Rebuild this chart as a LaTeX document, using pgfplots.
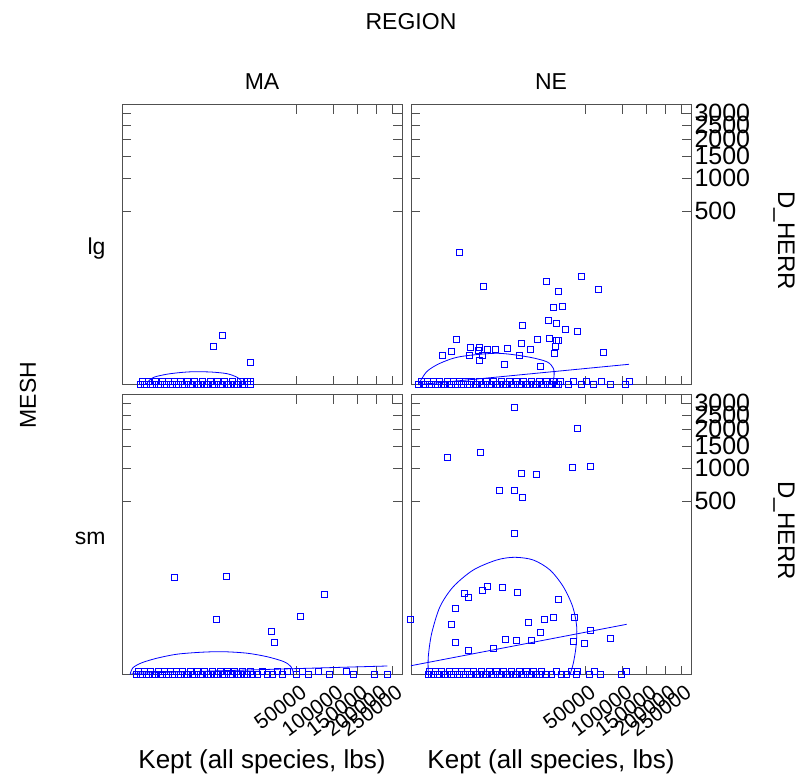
\documentclass[border=0pt]{standalone}
\usepackage{fontspec}
\setmainfont{Liberation Sans}
\usepackage{pgfplots}
\pgfplotsset{compat=1.18}
\definecolor{frame}{RGB}{80,80,80}
\definecolor{ptblue}{RGB}{0,0,255}
\pgfplotsset{
  panel/.style={
    scale only axis, width=280pt, height=280pt, anchor=south west,
    clip=false,
    x coord trafo/.code={\begingroup\pgfkeys{/pgf/fpu=true,/pgf/fpu/output format=fixed}\pgfmathparse{sqrt(sqrt(##1))}\pgfmathsmuggle\pgfmathresult\endgroup},
    y coord trafo/.code={\begingroup\pgfkeys{/pgf/fpu=true,/pgf/fpu/output format=fixed}\pgfmathparse{sqrt(sqrt(##1))}\pgfmathsmuggle\pgfmathresult\endgroup},
    xmin=4.63, xmax=283760, ymin=0, ymax=3388,
    xtick={50000,100000,150000,200000,250000},
    ytick={500,1000,1500,2000,2500,3000},
    xticklabels={}, yticklabels={},
    minor tick num=0,
    tick align=inside, major tick length=9pt,
    axis line style={frame, line width=1pt},
    every tick/.style={frame, line width=1pt},
    xticklabel style={rotate=37, anchor=north east, font=\fontsize{21}{21}\selectfont, yshift=-5pt},
    yticklabel style={font=\fontsize{25}{25}\selectfont},
  },
  pts/.style={only marks, mark=square, mark size=3pt, color=ptblue, mark options={draw=ptblue, fill=none, solid, line width=0.95pt}},
  fit/.style={no marks, color=ptblue, line width=0.8pt},
  ell/.style={no marks, color=ptblue, line width=0.8pt, smooth},
  xlab/.style={xticklabels={50000,100000,150000,200000,250000}},
  ylab/.style={yticklabel pos=right, yticklabels={500,1000,1500,2000,2500,3000}},
}
\begin{document}
\begin{tikzpicture}
\path[use as bounding box] (0pt,0pt) rectangle (811pt,781pt);

% ---------------- MA, lg ----------------
\begin{axis}[panel, at={(122pt,396.3pt)}]
\addplot[pts] coordinates {
(7120,3.18) (5198,1.20) (16713,0.129) (16713,0.00005)
(66.5,0) (82.1,0.00004) (100.3,0) (121.4,0) (145.6,0.00004) (173.2,0) (204.7,0)
(259.6,0.00004) (324.9,0) (374.8,0) (430.2,0.00004) (491.6,0) (559.3,0) (633.7,0.00004)
(715.4,0) (804.7,0) (902.2,0.00004) (1008,0) (1123,0) (1248,0.00004) (1383,0) (1528,0)
(1768,0.00004) (2034,0) (2228,0) (2434,0.00004) (2772,0) (3143,0) (3411,0.00004) (3694,0)
(4153,0) (4654,0.00004) (5012,0) (5389,0) (5996,0.00004) (6653,0) (7120,0) (7611,0.00004)
(8393,0) (9236,0) (9832,0.00004) (10455,0) (11447,0) (12506,0.00004) (13255,0) (14033,0)
(15265,0.00004) (16577,0)
};
\addplot[ell] coordinates {
(121.4,0) (159,0.000141) (240.2,0.001745) (595.6,0.0067) (1383,0.01261) (2543,0.01575)
(5012,0.0139) (8393,0.00807) (11447,0.001745) (12876,0.000141) (13255,0)
};
\end{axis}

% ---------------- NE, lg ----------------
\begin{axis}[panel, ylab, at={(411pt,396.3pt)}]
\addplot[pts] coordinates {
(728,167.4) (2467,51.7) (20130,63.0) (45590,76.1) (27420,42.0) (64300,45.7)
(23860,20.1) (29860,20.8) (21410,9.66) (25680,7.84) (10230,6.86) (32020,5.04)
(41580,4.58) (607,2.26) (9923,1.62) (15700,2.26) (21740,2.56) (26120,2.20)
(27160,2.07) (25060,1.20) (1362,1.08) (2062,1.08) (2978,0.827) (4043,0.896)
(6275,1.0) (12990,0.896) (24630,0.557) (222,0.412) (439,0.654) (1268,0.390)
(1969,0.737) (2329,0.412) (2034,0.205) (9323,0.390) (5727,0.0955) (17030,0.0632)
(70770,0.607)
(16.2,0) (25.1,0.00004) (32.8,0) (42.1,0) (53.3,0.00004) (66.5,0) (82.1,0) (100.3,0.00004)
(121.4,0) (145.6,0) (173.2,0.00004) (204.7,0) (259.6,0) (324.9,0.00004) (374.8,0) (430.2,0)
(491.6,0.00004) (559.3,0) (633.7,0) (715.4,0.00004) (804.7,0) (902.2,0) (1008,0.00004)
(1123,0) (1248,0) (1383,0.00004) (1528,0) (1768,0) (2034,0.00004) (2228,0) (2434,0)
(2772,0.00004) (3143,0) (3411,0) (3694,0.00004) (4153,0) (4654,0) (5012,0.00004) (5389,0)
(5996,0) (6653,0.00004) (7120,0) (7611,0) (8393,0.00004) (9236,0) (9832,0) (10455,0.00004)
(11447,0) (12506,0) (13255,0.00004) (14033,0) (15265,0) (16577,0.00004) (17502,0) (18458,0)
(19966,0.00004) (21570,0) (22690,0) (23855,0.00004) (25681,0) (26958,0) (28281,0.00004)
(34300,0) (38357,0.00004) (45976,0) (51017,0.00004) (58289,0) (68654,0.00004) (80180,0)
(104632,0) (112004,0.0001)
};
\addplot[fit] coordinates {(17.0,0) (112004,0.0955)};
\addplot[ell] coordinates {
(17.0,0) (51.47,0.01575) (188.45,0.1156) (759.1,0.3388) (4266,0.5358) (11688,0.3388)
(20332,0.1543) (24032,0.03988) (24452,0.002258) (23092,0)
};
\end{axis}

% ---------------- MA, sm ----------------
\begin{axis}[panel, xlab, at={(122pt,106.3pt)}]
\addplot[pts] coordinates {
(918,49.6) (8206,51.7) (5850,5.31) (28484,1.96) (30359,0.578) (53801,6.41) (85766,23.4)
(42.1,0) (53.3,0.00004) (66.5,0) (82.1,0) (100.3,0.00004) (121.4,0) (145.6,0) (173.2,0.00004)
(204.7,0) (259.6,0) (324.9,0.00004) (374.8,0) (430.2,0) (491.6,0.00004) (559.3,0) (633.7,0)
(715.4,0.00004) (804.7,0) (902.2,0) (1008,0.00004) (1123,0) (1248,0) (1383,0.00004) (1528,0)
(1768,0) (2034,0.00004) (2228,0) (2434,0) (2772,0.00004) (3143,0) (3411,0) (3694,0.00004)
(4153,0) (4654,0) (5012,0.00004) (5389,0) (5996,0) (6653,0.00004) (7120,0) (7611,0)
(8393,0.00004) (9236,0) (9832,0) (10455,0.00004) (11447,0) (12506,0) (13255,0.00004)
(14033,0) (15265,0) (16577,0.00004) (17502,0) (19966,0) (22690,0.00004) (25681,0)
(28959,0) (32541,0.00004) (36447,0) (40695,0.00004)
(50000,0) (56012,0.00004) (63071,0) (76286,0.00004) (93110,0) (125224,0.00004)
(139353,0) (191494,0) (231938,0)
};
\addplot[fit] coordinates {(24.09,0.000002) (231938,0.00316)};
\addplot[ell] coordinates {
(18.87,0) (28.76,0.001323) (82.1,0.01143) (301.9,0.04086) (1064.6,0.0974) (3410.6,0.1413)
(7361.6,0.1543) (15265,0.1178) (25681,0.0579) (38103,0.01575) (44351,0.002258)
(46265,0.000045) (46755,0)
};
\end{axis}

% ---------------- NE, sm ----------------
\begin{axis}[panel, xlab, ylab, at={(411pt,106.3pt)}]
\addplot[pts] coordinates {
(8047,2818) (41850,2032) (332,1231) (2158,1349) (37270,1020) (54900,1040)
(9832,912) (15570,894) (4777,637) (7943,637) (10140,546) (8047,222)
(2928,33.7) (5331,32.2) (2329,28.0) (992,23.7) (1229,19.4) (8667,25.4) (27160,17.8)
(585,10.7) (12150,4.16) (19100,5.19) (24030,5.98) (39210,5.82) (439,3.45) (17030,1.78)
(54570,2.14) (559,0.607) (5933,0.896) (8475,0.799) (13370,0.772) (38100,0.686)
(48250,0.557) (80180,1.0) (1184,0.205) (3739,0.280) (3.98,5.19)
(59.6,0) (66.5,0.00004) (82.1,0) (100.3,0) (121.4,0.00004) (145.6,0) (173.2,0) (204.7,0.00004)
(259.6,0) (324.9,0) (374.8,0.00004) (430.2,0) (491.6,0) (559.3,0.00004) (633.7,0) (715.4,0)
(804.7,0.00004) (902.2,0) (1008,0) (1123,0.00004) (1248,0) (1383,0) (1528,0.00004) (1768,0)
(2034,0) (2228,0.00004) (2434,0) (2772,0) (3143,0.00004) (3411,0) (3694,0) (4153,0.00004)
(4654,0) (5012,0) (5389,0.00004) (5996,0) (6653,0) (7120,0.00004) (7611,0) (8393,0)
(9236,0.00004) (9832,0) (10455,0) (11447,0.00004) (12506,0) (13255,0) (14033,0.00004)
(15265,0) (16577,0) (17502,0.00004) (19966,0) (22690,0) (25681,0.00004) (28959,0)
(32541,0) (36447,0.00004) (40695,0) (41583,0.00004)
(53801,0) (59463,0.00004) (66452,0) (97640,0) (107728,0.00004)
};
\addplot[fit] coordinates {(4.63,0.00362) (107728,3.557)};
\addplot[ell] coordinates {
(61.64,0) (61.64,0.0579) (88.18,1.619) (188.45,11.787) (501.3,33.06) (1551,66.24)
(4266,95.40) (8047,104.71) (14152,95.40) (22124,66.24) (30570,33.06) (37850,11.787)
(41318,2.926) (40695,0.3388) (38357,0.00931) (35641,0)
};
\end{axis}

% ---------------- labels ----------------
\node[font=\fontsize{23}{23}\selectfont] at (411pt,759pt) {REGION};
\node[font=\fontsize{23}{23}\selectfont] at (262pt,699pt) {MA};
\node[font=\fontsize{23}{23}\selectfont] at (551pt,699pt) {NE};
\node[font=\fontsize{23}{23}\selectfont, rotate=90] at (28pt,386pt) {MESH};
\node[font=\fontsize{23}{23}\selectfont, anchor=east] at (109pt,532pt) {lg};
\node[font=\fontsize{23}{23}\selectfont, anchor=east] at (109pt,243pt) {sm};
\node[font=\fontsize{24}{24}\selectfont, rotate=-90] at (784pt,540pt) {D\_HERR};
\node[font=\fontsize{24}{24}\selectfont, rotate=-90] at (784pt,250pt) {D\_HERR};
\node[font=\fontsize{26}{26}\selectfont] at (262pt,19pt) {Kept (all species, lbs)};
\node[font=\fontsize{26}{26}\selectfont] at (551pt,19pt) {Kept (all species, lbs)};
\end{tikzpicture}
\end{document}
